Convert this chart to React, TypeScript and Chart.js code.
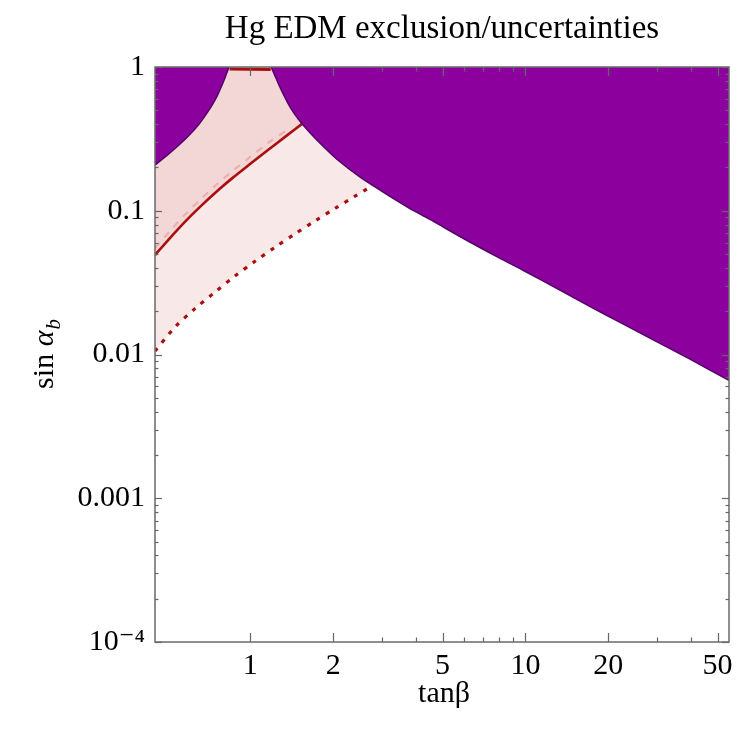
import React, { useEffect, useRef } from "react";
import { Chart, registerables } from "chart.js";

Chart.register(...registerables);

const FONT = '"Liberation Serif", "Times New Roman", "DejaVu Serif", serif';

// Axis ticks
const xMajorTicks = [1, 2, 5, 10, 20, 50];
const xTickLabels = ["1", "2", "5", "10", "20", "50"];
const xMinorTicks = [3, 4, 6, 7, 8, 9, 30, 40];
const yMajorTicks = [0.0001, 0.001, 0.01, 0.1, 1];
const yTickLabels = ["10\u207B\u2074", "0.001", "0.01", "0.1", "1"];
const yMinorTicks = [
  0.0002, 0.0003, 0.0004, 0.0005, 0.0006, 0.0007, 0.0008, 0.0009,
  0.002, 0.003, 0.004, 0.005, 0.006, 0.007, 0.008, 0.009,
  0.02, 0.03, 0.04, 0.05, 0.06, 0.07, 0.08, 0.09,
  0.2, 0.3, 0.4, 0.5, 0.6, 0.7, 0.8, 0.9,
];

// Excluded region (left lobe), boundary
const leftExclTanB = [0.45, 0.5, 0.55, 0.6, 0.65, 0.7, 0.75, 0.8, 0.82, 0.836];
const leftExclSin = [0.208, 0.245, 0.287, 0.337, 0.4, 0.487, 0.607, 0.8, 0.905, 1.0];

// Excluded region (right lobe)
const rightExclTanB = [1.19, 1.22, 1.27, 1.33, 1.4, 1.5, 1.65, 1.85, 2.1, 2.5, 3.0, 3.7, 4.5, 6, 8, 10, 13, 17, 22, 30, 40, 55];
const rightExclSin = [1.0, 0.9, 0.75, 0.625, 0.52, 0.43, 0.348, 0.278, 0.222, 0.172, 0.137, 0.107, 0.087, 0.0636, 0.0472, 0.0378, 0.0288, 0.0218, 0.0168, 0.0123, 0.0092, 0.0066];

// Central (solid) curve
const centralTanB = [0.45, 0.51, 0.578, 0.656, 0.756, 0.864, 0.997, 1.159, 1.337, 1.537];
const centralSin = [0.0492, 0.0646, 0.0837, 0.1064, 0.1367, 0.17, 0.2113, 0.2645, 0.3264, 0.4004];

// Lower (dotted) curve
const lowerTanB = [0.45, 0.532, 0.629, 0.744, 0.879, 1.04, 1.229, 1.453, 1.718, 2.031, 2.402, 2.655];
const lowerSin = [0.01056, 0.01551, 0.02086, 0.02718, 0.03512, 0.04452, 0.0557, 0.0691, 0.0849, 0.1038, 0.1262, 0.1416];

// Upper faint dashed curve
const upperTanB = [0.45, 0.51, 0.578, 0.656, 0.756, 0.864, 0.997, 1.159, 1.39];
const upperSin = [0.055, 0.0723, 0.0937, 0.119, 0.153, 0.19, 0.236, 0.296, 0.375];

// Short segment along the top
const topTanB = [0.84, 1.185];
const topSin = [0.968, 0.962];

const zip = (xs: number[], ys: number[]) => xs.map((x, i) => ({ x, y: ys[i] }));

const PURPLE = "rgb(140, 0, 158)";
const PURPLE_EDGE = "rgb(85, 0, 105)";
const DARK_RED = "rgb(170, 14, 14)";

const framePlugin = {
  id: "frameAndText",
  afterDatasetsDraw(chart: any) {
    const { ctx, chartArea: ca } = chart;
    const xs = chart.scales.x;
    const ys = chart.scales.y;
    ctx.save();
    ctx.strokeStyle = "#666";
    ctx.lineWidth = 1.2;
    const line = (x1: number, y1: number, x2: number, y2: number) => {
      ctx.beginPath();
      ctx.moveTo(x1, y1);
      ctx.lineTo(x2, y2);
      ctx.stroke();
    };
    for (const v of xMajorTicks) {
      const p = Math.round(xs.getPixelForValue(v)) + 0.5;
      line(p, ca.bottom, p, ca.bottom - 9);
      line(p, ca.top, p, ca.top + 9);
    }
    for (const v of xMinorTicks) {
      const p = Math.round(xs.getPixelForValue(v)) + 0.5;
      line(p, ca.bottom, p, ca.bottom - 4.5);
      line(p, ca.top, p, ca.top + 4.5);
    }
    for (const v of yMajorTicks) {
      const p = Math.round(ys.getPixelForValue(v)) + 0.5;
      line(ca.left, p, ca.left + 7, p);
      line(ca.right, p, ca.right - 7, p);
    }
    for (const v of yMinorTicks) {
      const p = Math.round(ys.getPixelForValue(v)) + 0.5;
      line(ca.left, p, ca.left + 3.5, p);
      line(ca.right, p, ca.right - 3.5, p);
    }
    ctx.strokeStyle = "#6a6a6a";
    ctx.lineWidth = 1.5;
    ctx.strokeRect(ca.left, ca.top, ca.right - ca.left, ca.bottom - ca.top);
    ctx.restore();
  },
  afterDraw(chart: any) {
    const { ctx, chartArea: ca } = chart;
    const cx = (ca.left + ca.right) / 2;
    const cy = (ca.top + ca.bottom) / 2;
    ctx.save();
    ctx.fillStyle = "#000";
    ctx.textAlign = "center";
    ctx.textBaseline = "alphabetic";
    ctx.font = `33px ${FONT}`;
    ctx.fillText("Hg EDM exclusion/uncertainties", cx, 38);
    ctx.font = `30px ${FONT}`;
    ctx.fillText("tan\u03B2", cx + 2, 702);

    // y-axis title: sin α_b
    ctx.translate(43, cy);
    ctx.rotate(-Math.PI / 2);
    ctx.textAlign = "left";
    const f1 = `30px ${FONT}`;
    const f2 = `italic 30px ${FONT}`;
    const f3 = `italic 21px ${FONT}`;
    ctx.font = f1;
    const w1 = ctx.measureText("sin ").width;
    ctx.font = f2;
    const w2 = ctx.measureText("\u03B1").width;
    ctx.font = f3;
    const w3 = ctx.measureText("b").width;
    let x0 = -(w1 + w2 + w3) / 2;
    ctx.font = f1;
    ctx.fillText("sin ", x0, 10);
    x0 += w1;
    ctx.font = f2;
    ctx.fillText("\u03B1", x0, 10);
    x0 += w2 + 1;
    ctx.font = f3;
    ctx.fillText("b", x0, 17);
    ctx.restore();
  },
};

export default function App() {
  const ref = useRef<HTMLCanvasElement | null>(null);

  useEffect(() => {
    if (!ref.current) return;
    const chart = new Chart(ref.current, {
      type: "line",
      data: {
        datasets: [
          {
            data: zip(leftExclTanB, leftExclSin),
            borderColor: PURPLE_EDGE,
            borderWidth: 1.5,
            backgroundColor: PURPLE,
            fill: "end",
          },
          {
            data: zip(rightExclTanB, rightExclSin),
            borderColor: PURPLE_EDGE,
            borderWidth: 1.5,
            backgroundColor: PURPLE,
            fill: "end",
          },
          {
            data: zip(topTanB, topSin),
            borderColor: DARK_RED,
            borderWidth: 3,
            fill: false,
          },
          {
            data: zip(centralTanB, centralSin),
            borderColor: DARK_RED,
            borderWidth: 2.6,
            fill: false,
          },
          {
            data: zip(lowerTanB, lowerSin),
            borderColor: DARK_RED,
            borderWidth: 3.2,
            borderDash: [4, 7],
            fill: false,
          },
          {
            data: zip(upperTanB, upperSin),
            borderColor: "rgba(232, 165, 165, 0.8)",
            borderWidth: 2.2,
            borderDash: [7, 7],
            fill: false,
          },
          {
            data: zip(centralTanB, centralSin),
            borderWidth: 0,
            borderColor: "rgba(0,0,0,0)",
            backgroundColor: "rgba(225, 150, 150, 0.22)",
            fill: "end",
          },
          {
            data: zip(lowerTanB, lowerSin),
            borderWidth: 0,
            borderColor: "rgba(0,0,0,0)",
            backgroundColor: "rgb(249, 232, 232)",
            fill: "end",
          },
        ],
      },
      options: {
        animation: false,
        responsive: false,
        maintainAspectRatio: false,
        layout: { padding: { top: 67, right: 18, left: 0, bottom: 0 } },
        elements: { point: { radius: 0, hoverRadius: 0 }, line: { tension: 0.3 } },
        plugins: {
          legend: { display: false },
          title: { display: false },
          tooltip: { enabled: false },
          filler: { drawTime: "beforeDatasetDraw" },
        } as any,
        events: [],
        scales: {
          x: {
            type: "logarithmic",
            min: 0.45,
            max: 55,
            grid: { display: false, drawTicks: false },
            border: { display: false },
            afterBuildTicks: (s: any) => {
              s.ticks = xMajorTicks.map((v) => ({ value: v }));
            },
            afterFit: (s: any) => {
              s.height = 87;
            },
            ticks: {
              autoSkip: false,
              maxRotation: 0,
              padding: 6,
              color: "#000",
              font: { family: FONT, size: 30 },
              callback: (_v: any, i: number) => xTickLabels[i],
            },
          },
          y: {
            type: "logarithmic",
            min: 0.0001,
            max: 1,
            grid: { display: false, drawTicks: false },
            border: { display: false },
            afterBuildTicks: (s: any) => {
              s.ticks = yMajorTicks.map((v) => ({ value: v }));
            },
            afterFit: (s: any) => {
              s.width = 155;
            },
            ticks: {
              autoSkip: false,
              padding: 10,
              color: "#000",
              font: { family: FONT, size: 30 },
              callback: (_v: any, i: number) => yTickLabels[i],
            },
          },
        },
      } as any,
      plugins: [framePlugin],
    });
    return () => chart.destroy();
  }, []);

  return (
    <div style={{ position: "absolute", left: 0, top: 0, width: 747, height: 729, background: "#fff" }}>
      <canvas ref={ref} width={747} height={729} style={{ width: 747, height: 729, display: "block" }} />
    </div>
  );
}
